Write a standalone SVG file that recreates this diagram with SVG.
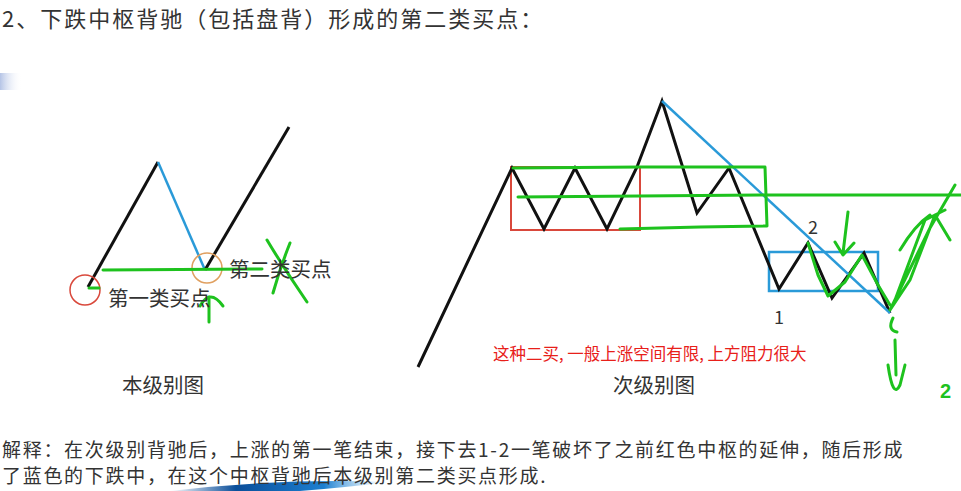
<svg xmlns="http://www.w3.org/2000/svg" width="961" height="491" viewBox="0 0 961 491">
<defs>
<style>
.t{font-family:"Noto Sans CJK SC","Liberation Sans",sans-serif;fill:#333}
.k{fill:none;stroke:#111;stroke-width:3;stroke-linejoin:miter}
.b{fill:none;stroke:#2a9ad8;stroke-width:2.5}
.g{fill:none;stroke:#1ec21e;stroke-width:3;stroke-linecap:round;stroke-linejoin:round}
.r{fill:none;stroke:#d9483b;stroke-width:2}
</style>
<linearGradient id="sw" x1="0" y1="0" x2="1" y2="0">
<stop offset="0" stop-color="#0a4e9a" stop-opacity="0"/>
<stop offset="0.3" stop-color="#0a4e9a"/>
<stop offset="0.7" stop-color="#1d7fd0"/>
<stop offset="1" stop-color="#9fd2f5" stop-opacity="0"/>
</linearGradient>
<linearGradient id="lb" x1="0" y1="0" x2="1" y2="0">
<stop offset="0" stop-color="#b5c4e6"/>
<stop offset="1" stop-color="#ffffff" stop-opacity="0"/>
</linearGradient>
</defs>
<rect width="961" height="491" fill="#fff"/>
<rect x="0" y="73" width="22" height="17" fill="url(#lb)"/>
<text class="t" x="2" y="27" font-size="22" letter-spacing="2">2、下跌中枢背驰（包括盘背）形成的第二类买点：</text>

<g id="left-chart">
<polyline class="k" points="88,287 158,162"/>
<polyline class="b" points="158,162 205,270"/>
<polyline class="k" points="205,270 289,127"/>
<circle cx="85" cy="290" r="15" fill="none" stroke="#d9483b" stroke-width="1.5"/>
<circle cx="207" cy="268" r="15" fill="none" stroke="#e0a060" stroke-width="1.5"/>
<line class="g" x1="103" y1="270" x2="262" y2="269"/>
<line class="g" x1="89" y1="288" x2="99" y2="288"/>
<path class="g" d="M267,240 Q285,270 307,302 M290,243 Q280,268 273,293" stroke-width="4"/>
<path class="g" d="M200,306 Q210,288 223,306 M209,297 L209,322"/>
<text class="t" x="229" y="277" font-size="20.5">第二类买点</text>
<text class="t" x="108" y="306" font-size="20.5">第一类买点</text>
<text class="t" x="122" y="393" font-size="20.5">本级别图</text>
</g>

<g id="right-chart">
<rect x="511" y="167" width="129" height="63" class="r"/>
<rect x="769" y="252" width="109" height="39" class="b" stroke-width="2"/>
<polyline class="k" points="418,367 512,168 544,229 575,168 607,229 637,167 662,101 697,213 729,168 779,289 808,243 832,298 864,253 890,313"/>
<line class="b" x1="662" y1="101" x2="890" y2="313"/>
<path class="g" d="M513,168 L640,167 L765,167 L767,226 L700,227 L620,229"/>
<path class="g" d="M518,197 L760,195 L961,195"/>
<path class="g" d="M808,243 L818,275 L828,296 L845,282 L862,255 L878,285 L890,305"/>
<path class="g" d="M848,212 L843,253 M835,242 L843,255 L854,243"/>
<path class="g" d="M890,310 L930,228 L955,185 M890,310 L910,280 L935,215 L950,240 M895,300 L925,220 L945,210 M900,250 Q915,225 930,215"/>
<path class="g" d="M893,318 Q887,330 897,332 M895,340 L896,375 M888,365 Q893,400 900,385 L905,365"/>
<text x="940" y="398" font-size="20" font-family="Liberation Sans,sans-serif" fill="#1ec21e" font-weight="bold">2</text>
<text class="t" x="774" y="324" font-size="18" font-family="Liberation Sans,sans-serif">1</text>
<text class="t" x="808" y="234" font-size="18" font-family="Liberation Sans,sans-serif">2</text>
<text x="493" y="360" font-size="16.5" font-family="Noto Sans CJK SC,sans-serif" fill="#e8201a">这种二买, 一般上涨空间有限, 上方阻力很大</text>
<text class="t" x="613" y="393" font-size="20.5">次级别图</text>
</g>

<path d="M170,491 Q280,478 390,482 Q340,488 300,491 Z" fill="url(#sw)"/>
<text class="t" x="2" y="457" font-size="19" letter-spacing="1.7">解释：在次级别背驰后，上涨的第一笔结束，接下去1-2一笔破坏了之前红色中枢的延伸，随后形成</text>
<text class="t" x="2" y="483" font-size="19" letter-spacing="1.7">了蓝色的下跌中，在这个中枢背驰后本级别第二类买点形成.</text>
</svg>
